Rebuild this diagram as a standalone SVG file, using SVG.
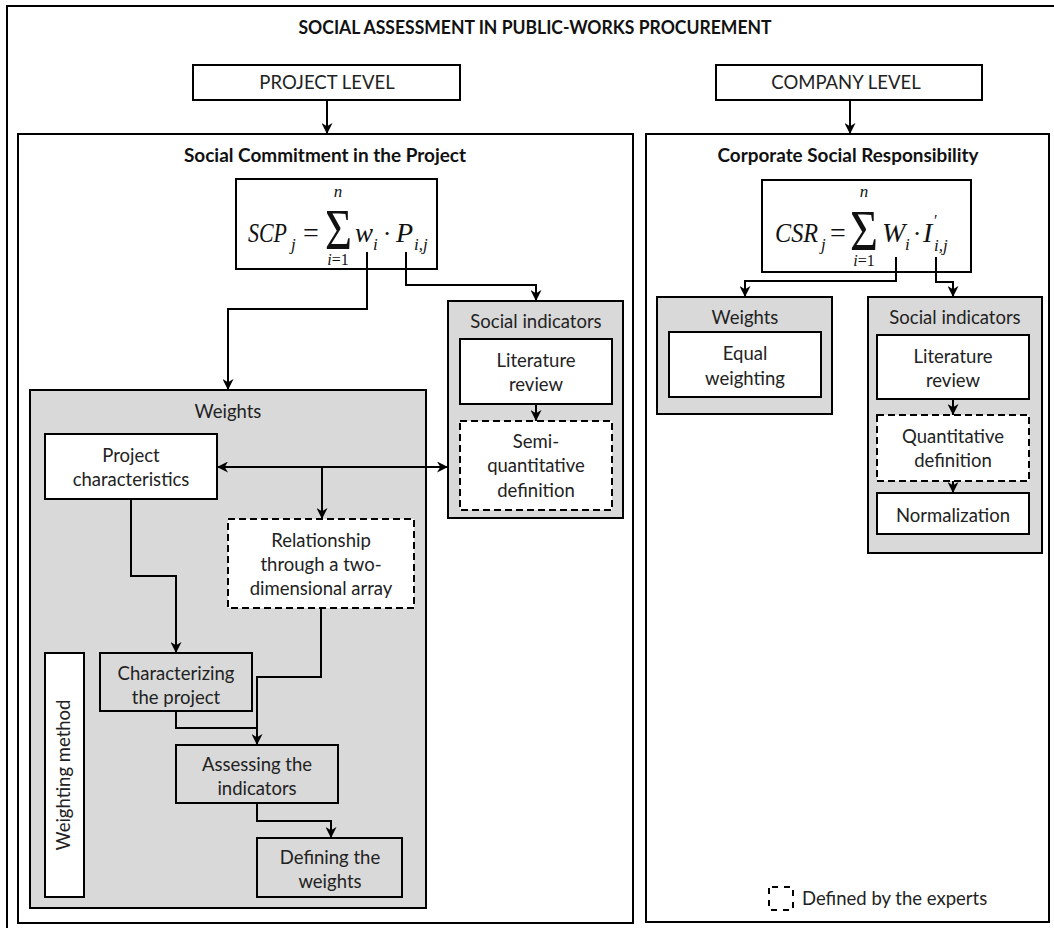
<svg xmlns="http://www.w3.org/2000/svg" width="1054" height="928" viewBox="0 0 1054 928">
<style>
.box{fill:#fff;stroke:#000;stroke-width:2}
.gray{fill:#d9d9d9}
.dash{stroke-dasharray:7 4}
.pan{fill:#fff;stroke:#000;stroke-width:2}
.t{font-family:Lato,"Liberation Sans",sans-serif;font-size:18.5px;text-anchor:middle;fill:#222}
.tb{font-family:Lato,"Liberation Sans",sans-serif;font-weight:bold;font-size:18px;text-anchor:middle;fill:#111}
.f{font-family:"Liberation Serif",serif;font-style:italic;fill:#111}
.fr{font-family:"Liberation Serif",serif;fill:#111}
.c{fill:none;stroke:#000;stroke-width:2}
</style>
<defs>
<marker id="ah" viewBox="0 0 10 10" refX="10" refY="5" markerWidth="11" markerHeight="11" markerUnits="userSpaceOnUse" orient="auto-start-reverse">
<path d="M0,0 L10,5 L0,10 L3,5 z" fill="#000"/>
</marker>
</defs>
<rect width="1054" height="928" fill="#fff"/>
<rect x="7" y="6" width="1060" height="940" class="pan"/>
<g id="title"><text x="535" y="34" class="tb" font-size="16" textLength="473" lengthAdjust="spacingAndGlyphs">SOCIAL ASSESSMENT IN PUBLIC-WORKS PROCUREMENT</text></g>
<g id="project-level"><rect x="193" y="65" width="267" height="35" class="box"/><text x="327" y="89" class="t" font-size="17">PROJECT LEVEL</text></g>
<g id="company-level"><rect x="716" y="65" width="266" height="35" class="box"/><text x="846" y="89" class="t" font-size="17">COMPANY LEVEL</text></g>
<g id="panel-project"><rect x="18" y="134" width="615" height="789" class="pan"/><text x="325" y="162" class="tb" textLength="282" lengthAdjust="spacingAndGlyphs">Social Commitment in the Project</text></g>
<g id="panel-company"><rect x="646" y="134" width="403" height="788" class="pan"/><text x="848" y="162" class="tb" textLength="261" lengthAdjust="spacingAndGlyphs">Corporate Social Responsibility</text></g>
<g id="scp-formula">
<rect x="236" y="179" width="201" height="90" class="box"/>
<text x="248" y="242" class="f" font-size="28" textLength="39" lengthAdjust="spacingAndGlyphs">SCP</text>
<text x="291" y="250" class="f" font-size="17">j</text>
<text x="311" y="242" class="fr" font-size="28" text-anchor="middle">=</text>
<text x="325" y="249" class="fr" font-size="56" textLength="27" lengthAdjust="spacingAndGlyphs">Σ</text>
<text x="338" y="197" class="f" font-size="17" text-anchor="middle">n</text>
<text x="338" y="265" class="fr" font-size="16" text-anchor="middle"><tspan class="f">i</tspan>=1</text>
<text x="355" y="242" class="f" font-size="27">w</text>
<text x="373" y="250" class="f" font-size="17">i</text>
<text x="387" y="242" class="fr" font-size="26" text-anchor="middle">·</text>
<text x="396" y="242" class="f" font-size="28">P</text>
<text x="414" y="250" class="f" font-size="17">i,j</text>
</g>
<g id="csr-formula">
<rect x="762" y="180" width="209" height="92" class="box"/>
<text x="775" y="242" class="f" font-size="28" textLength="43" lengthAdjust="spacingAndGlyphs">CSR</text>
<text x="821" y="250" class="f" font-size="17">j</text>
<text x="838" y="242" class="fr" font-size="28" text-anchor="middle">=</text>
<text x="850" y="250" class="fr" font-size="56" textLength="28" lengthAdjust="spacingAndGlyphs">Σ</text>
<text x="864" y="197" class="f" font-size="17" text-anchor="middle">n</text>
<text x="864" y="266" class="fr" font-size="16" text-anchor="middle"><tspan class="f">i</tspan>=1</text>
<text x="882" y="242" class="f" font-size="28">W</text>
<text x="905" y="250" class="f" font-size="17">i</text>
<text x="917" y="242" class="fr" font-size="26" text-anchor="middle">·</text>
<text x="923" y="242" class="f" font-size="28">I</text>
<text x="934" y="226" class="fr" font-size="16">′</text>
<text x="934" y="251" class="f" font-size="17">i,j</text>
</g>
<g id="weights-panel"><rect x="30" y="390" width="396" height="518" class="box gray"/><text x="228" y="418" class="t">Weights</text></g>
<g id="project-characteristics"><rect x="45" y="434" width="172" height="65" class="box"/><text x="131" y="462" class="t">Project</text><text x="131" y="486" class="t">characteristics</text></g>
<g id="relationship"><rect x="228" y="519" width="186" height="89" class="box dash"/><text x="321" y="547" class="t">Relationship</text><text x="321" y="571" class="t">through a two-</text><text x="321" y="595" class="t">dimensional array</text></g>
<g id="weighting-method"><rect x="45" y="653" width="39" height="244" class="box"/><text transform="translate(70,775) rotate(-90)" class="t">Weighting method</text></g>
<g id="characterizing"><rect x="100" y="653" width="152" height="58" class="box gray"/><text x="176" y="680" class="t">Characterizing</text><text x="176" y="704" class="t">the project</text></g>
<g id="assessing"><rect x="176" y="745" width="162" height="58" class="box gray"/><text x="257" y="771" class="t">Assessing the</text><text x="257" y="795" class="t">indicators</text></g>
<g id="defining"><rect x="257" y="838" width="145" height="59" class="box gray"/><text x="330" y="864" class="t">Defining the</text><text x="330" y="888" class="t">weights</text></g>
<g id="si-left"><rect x="448" y="301" width="175" height="217" class="box gray"/><text x="536" y="328" class="t">Social indicators</text></g>
<g id="lit-left"><rect x="460" y="339" width="152" height="65" class="box"/><text x="536" y="367" class="t">Literature</text><text x="536" y="391" class="t">review</text></g>
<g id="semi"><rect x="460" y="421" width="152" height="89" class="box dash"/><text x="536" y="448" class="t">Semi-</text><text x="536" y="472" class="t">quantitative</text><text x="536" y="497" class="t">definition</text></g>
<g id="weights-right"><rect x="657" y="297" width="175" height="117" class="box gray"/><text x="745" y="324" class="t">Weights</text></g>
<g id="equal"><rect x="669" y="332" width="152" height="65" class="box"/><text x="745" y="360" class="t">Equal</text><text x="745" y="385" class="t">weighting</text></g>
<g id="si-right"><rect x="868" y="297" width="174" height="256" class="box gray"/><text x="955" y="324" class="t">Social indicators</text></g>
<g id="lit-right"><rect x="877" y="335" width="152" height="64" class="box"/><text x="953" y="363" class="t">Literature</text><text x="953" y="387" class="t">review</text></g>
<g id="quant"><rect x="877" y="415" width="152" height="66" class="box dash"/><text x="953" y="443" class="t">Quantitative</text><text x="953" y="467" class="t">definition</text></g>
<g id="normalization"><rect x="877" y="493" width="152" height="41" class="box"/><text x="953" y="522" class="t">Normalization</text></g>
<g id="legend"><rect x="769" y="887" width="24" height="23" fill="none" stroke="#000" stroke-width="2" stroke-dasharray="6 6" stroke-dashoffset="-3"/><text x="802" y="905" class="t" style="text-anchor:start">Defined by the experts</text></g>
<g id="connectors" class="c" marker-end="url(#ah)">
<path d="M327,100 V134"/>
<path d="M850,100 V134"/>
<path d="M367,252 V309 H228 V390"/>
<path d="M406,252 V285 H536 V301"/>
<path d="M131,499 V576 H176 V653"/>
<path d="M321,608 V677 H257 V745"/>
<path d="M176,711 V728 H257" marker-end="none"/>
<path d="M257,803 V821 H331 V838"/>
<path d="M217,467 H448" marker-start="url(#ah)"/>
<path d="M322,467 V519"/>
<path d="M536,404 V421"/>
<path d="M896,257 V281 H745 V297"/>
<path d="M936,257 V282 H953 V297"/>
<path d="M953,399 V415"/>
<path d="M953,481 V493"/>
</g>
</svg>
